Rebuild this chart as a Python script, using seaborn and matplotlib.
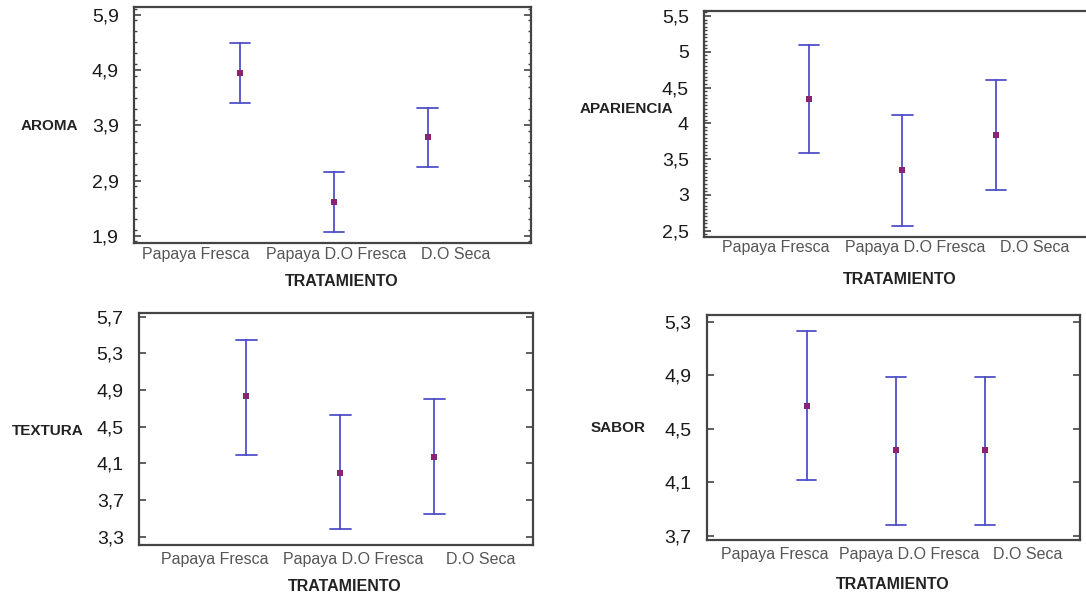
import numpy as np
import pandas as pd
import matplotlib
matplotlib.use("Agg")
import matplotlib.pyplot as plt
import seaborn as sns
from matplotlib.ticker import MultipleLocator, NullLocator

# categorias del eje x
tratamientos = ["Papaya Fresca", "Papaya D.O Fresca", "D.O Seca"]

# medias e intervalos (limite inferior / superior)
aroma_media = [4.85, 2.51, 3.68]
aroma_inf = [4.30, 1.97, 3.14]
aroma_sup = [5.38, 3.05, 4.22]

apariencia_media = [4.34, 3.34, 3.84]
apariencia_inf = [3.58, 2.57, 3.07]
apariencia_sup = [5.10, 4.11, 4.61]

textura_media = [4.83, 4.00, 4.17]
textura_inf = [4.19, 3.38, 3.55]
textura_sup = [5.45, 4.63, 4.80]

sabor_media = [4.67, 4.34, 4.34]
sabor_inf = [4.12, 3.78, 3.78]
sabor_sup = [5.23, 4.89, 4.89]

# marcas del eje y
aroma_ticks = [1.9, 2.9, 3.9, 4.9, 5.9]
apariencia_ticks = [2.5, 3.0, 3.5, 4.0, 4.5, 5.0, 5.5]
textura_ticks = [3.3, 3.7, 4.1, 4.5, 4.9, 5.3, 5.7]
sabor_ticks = [3.7, 4.1, 4.5, 4.9, 5.3]

sns.set_style("ticks")
plt.rcParams["font.family"] = ["Liberation Sans", "DejaVu Sans"]

AZUL = "#5050c8"
PUNTO = "#8a2470"
MARCO = "#444444"

paneles = [
    dict(nombre="AROMA", media=aroma_media, inf=aroma_inf, sup=aroma_sup,
         ticks=aroma_ticks, rect=[0.1234, 0.5916, 0.3656, 0.3966],
         ylim=(1.77, 6.04), xlim=(-1.13, 3.10), minor=0.2,
         ylab=(-0.212, 0.496), xlab=(0.524, -0.165),
         off=[-0.47, 0.02, 0.30], pad=3),
    dict(nombre="APARIENCIA", media=apariencia_media, inf=apariencia_inf,
         sup=apariencia_sup, ticks=apariencia_ticks,
         rect=[0.6483, 0.6017, 0.3619, 0.3798],
         ylim=(2.41, 5.57), xlim=(-1.12, 3.08), minor=0.05,
         ylab=(-0.198, 0.566), xlab=(0.499, -0.19),
         off=[-0.35, 0.14, 0.41], pad=2),
    dict(nombre="TEXTURA", media=textura_media, inf=textura_inf,
         sup=textura_sup, ticks=textura_ticks,
         rect=[0.128, 0.084, 0.3628, 0.39],
         ylim=(3.21, 5.74), xlim=(-1.14, 3.05), minor=None,
         ylab=(-0.231, 0.491), xlab=(0.523, -0.177),
         off=[-0.33, 0.14, 0.49], pad=5),
    dict(nombre="SABOR", media=sabor_media, inf=sabor_inf, sup=sabor_sup,
         ticks=sabor_ticks, rect=[0.651, 0.0924, 0.3435, 0.378],
         ylim=(3.67, 5.35), xlim=(-1.12, 3.07), minor=None,
         ylab=(-0.239, 0.498), xlab=(0.499, -0.196),
         off=[-0.36, 0.15, 0.48], pad=5),
]


def etiqueta(v):
    return f"{v:g}".replace(".", ",")


fig = plt.figure(figsize=(10.86, 5.95), dpi=100)

for p in paneles:
    ax = fig.add_axes(p["rect"])
    # tabla larga: limite inferior, media y limite superior por tratamiento
    filas = []
    for t, lo, m, hi in zip(tratamientos, p["inf"], p["media"], p["sup"]):
        for v in (lo, m, hi):
            filas.append({"TRATAMIENTO": t, "valor": v})
    df = pd.DataFrame(filas)

    sns.pointplot(data=df, x="TRATAMIENTO", y="valor", order=tratamientos,
                  estimator="median", errorbar=("pi", 100),
                  color=PUNTO, markers="s", linestyle="none",
                  markersize=4.2, markeredgewidth=0, zorder=4,
                  capsize=0.22, err_kws={"color": AZUL, "linewidth": 1.3,
                                         "zorder": 2},
                  ax=ax)

    ax.set_xlim(*p["xlim"])
    ax.set_ylim(*p["ylim"])
    ax.set_xticks(np.arange(len(tratamientos)) + np.array(p["off"]))
    ax.set_xticklabels(tratamientos, fontsize=11.5, color="#555555")
    ax.tick_params(axis="x", length=0, pad=p["pad"])

    ax.set_yticks(p["ticks"])
    ax.set_yticklabels([etiqueta(v) for v in p["ticks"]], fontsize=14,
                       color="#1a1a1a")
    ax.tick_params(axis="y", which="major", direction="in", left=True,
                   right=True, length=5, width=1.2, color=MARCO, pad=11)
    if p["minor"]:
        ax.yaxis.set_minor_locator(MultipleLocator(p["minor"]))
        ax.tick_params(axis="y", which="minor", direction="in", left=True,
                       right=True, length=2.5, width=1.0, color=MARCO)
    else:
        ax.yaxis.set_minor_locator(NullLocator())

    for s in ax.spines.values():
        s.set_visible(True)
        s.set_color(MARCO)
        s.set_linewidth(1.6)

    ax.set_ylabel(p["nombre"], rotation=0, fontsize=11, fontweight="bold",
                  color="#222222", ha="center", va="center")
    ax.yaxis.set_label_coords(*p["ylab"])
    ax.set_xlabel("TRATAMIENTO", fontsize=11.5, fontweight="bold",
                  color="#222222", ha="center", va="center")
    ax.xaxis.set_label_coords(*p["xlab"])

fig.savefig("out.png", dpi=100)
